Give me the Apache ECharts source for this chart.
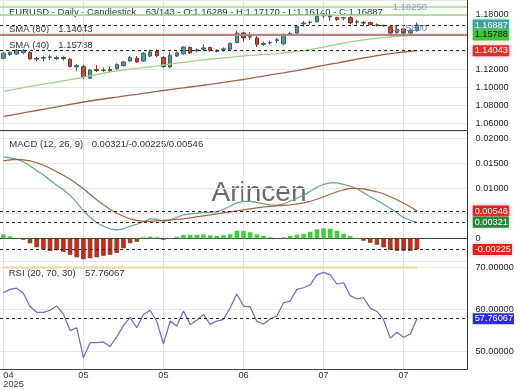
<!DOCTYPE html>
<html><head><meta charset="utf-8">
<script src="https://cdn.jsdelivr.net/npm/echarts@6/dist/echarts.min.js"></script>
<style>html,body{margin:0;padding:0;background:#fff}#c{width:520px;height:390px}</style>
</head><body><div id="c"></div><script>
const categories = ['2025-04-24','2025-04-25','2025-04-28','2025-04-29','2025-04-30','2025-05-01','2025-05-02','2025-05-05','2025-05-06','2025-05-07','2025-05-08','2025-05-09','2025-05-12','2025-05-13','2025-05-14','2025-05-15','2025-05-16','2025-05-19','2025-05-20','2025-05-21','2025-05-22','2025-05-23','2025-05-26','2025-05-27','2025-05-28','2025-05-29','2025-05-30','2025-06-02','2025-06-03','2025-06-04','2025-06-05','2025-06-06','2025-06-09','2025-06-10','2025-06-11','2025-06-12','2025-06-13','2025-06-16','2025-06-17','2025-06-18','2025-06-19','2025-06-20','2025-06-23','2025-06-24','2025-06-25','2025-06-26','2025-06-27','2025-06-30','2025-07-01','2025-07-02','2025-07-03','2025-07-04','2025-07-07','2025-07-08','2025-07-09','2025-07-10','2025-07-11','2025-07-14','2025-07-15','2025-07-16','2025-07-17','2025-07-18','2025-07-21','2025-07-22','2025-07-23','2025-07-24','2025-07-25','2025-07-28','2025-07-29','2025-07-30'];
const tickLabels = ['04\n2025','05','05','06','07','07'];
// [open, close, low, high]
const ohlc = [
[1.1320,1.1376,1.1310,1.1392],[1.1360,1.1385,1.1348,1.1398],[1.1368,1.1410,1.1358,1.1422],[1.1382,1.1405,1.1368,1.1420],
[1.1385,1.1315,1.1303,1.1395],[1.1318,1.1312,1.1290,1.1338],[1.1322,1.1330,1.1286,1.1350],[1.1330,1.1336,1.1300,1.1360],
[1.1316,1.1330,1.1300,1.1350],[1.1330,1.1316,1.1296,1.1342],[1.1310,1.1230,1.1220,1.1320],[1.1226,1.1240,1.1178,1.1256],
[1.1228,1.1115,1.1090,1.1248],[1.1100,1.1190,1.1090,1.1200],[1.1196,1.1186,1.1170,1.1245],[1.1186,1.1190,1.1170,1.1220],
[1.1196,1.1182,1.1165,1.1230],[1.1205,1.1250,1.1195,1.1265],[1.1240,1.1280,1.1230,1.1292],[1.1290,1.1330,1.1280,1.1345],
[1.1320,1.1280,1.1270,1.1345],[1.1290,1.1375,1.1284,1.1386],[1.1345,1.1390,1.1335,1.1415],[1.1400,1.1350,1.1335,1.1420],
[1.1330,1.1230,1.1215,1.1345],[1.1225,1.1355,1.1210,1.1385],[1.1345,1.1380,1.1335,1.1395],[1.1370,1.1445,1.1360,1.1455],
[1.1440,1.1380,1.1370,1.1450],[1.1405,1.1415,1.1385,1.1430],[1.1420,1.1435,1.1400,1.1475],[1.1440,1.1410,1.1392,1.1450],
[1.1405,1.1400,1.1385,1.1420],[1.1415,1.1425,1.1395,1.1440],[1.1420,1.1485,1.1410,1.1495],[1.1495,1.1600,1.1485,1.1630],
[1.1600,1.1545,1.1505,1.1615],[1.1555,1.1565,1.1525,1.1610],[1.1545,1.1475,1.1445,1.1565],[1.1475,1.1485,1.1455,1.1505],
[1.1490,1.1495,1.1470,1.1515],[1.1515,1.1525,1.1490,1.1545],[1.1480,1.1580,1.1465,1.1595],[1.1585,1.1595,1.1570,1.1615],
[1.1600,1.1675,1.1590,1.1690],[1.1700,1.1710,1.1670,1.1735],[1.1715,1.1720,1.1690,1.1735],[1.1725,1.1785,1.1715,1.1800],
[1.1790,1.1800,1.1760,1.1820],[1.1790,1.1780,1.1736,1.1800],[1.1770,1.1750,1.1735,1.1780],[1.1765,1.1770,1.1740,1.1780],
[1.1770,1.1712,1.1695,1.1785],[1.1720,1.1725,1.1690,1.1745],[1.1715,1.1710,1.1680,1.1735],[1.1715,1.1695,1.1685,1.1725],
[1.1690,1.1688,1.1672,1.1705],[1.1685,1.1680,1.1670,1.1690],[1.1668,1.1600,1.1590,1.1680],[1.1605,1.1640,1.1590,1.1690],
[1.1645,1.1600,1.1560,1.1655],[1.1600,1.1628,1.1590,1.1650],[1.16289,1.16887,1.16140,1.17170]
];
const sma40 = [1.0954,1.0968,1.0981,1.0995,1.1009,1.1022,1.1034,1.1046,1.1058,1.1071,1.1084,1.1097,1.1111,1.1126,1.1141,1.1155,1.1169,1.1180,1.1191,1.1201,1.1210,1.1218,1.1226,1.1236,1.1246,1.1256,1.1266,1.1276,1.1285,1.1294,1.1302,1.1310,1.1317,1.1324,1.1331,1.1339,1.1346,1.1352,1.1357,1.1363,1.1368,1.1373,1.1379,1.1387,1.1396,1.1407,1.1418,1.1431,1.1445,1.1459,1.1473,1.1487,1.1501,1.1512,1.1523,1.1533,1.1542,1.1549,1.1556,1.1562,1.1567,1.1573,1.15788];
const sma80 = [1.0677,1.0690,1.0703,1.0717,1.0730,1.0743,1.0756,1.0769,1.0782,1.0796,1.0810,1.0823,1.0837,1.0848,1.0859,1.0870,1.0881,1.0891,1.0902,1.0912,1.0922,1.0933,1.0943,1.0954,1.0964,1.0974,1.0984,1.0993,1.1003,1.1013,1.1022,1.1032,1.1042,1.1053,1.1064,1.1075,1.1086,1.1098,1.1111,1.1123,1.1136,1.1148,1.1160,1.1173,1.1185,1.1199,1.1213,1.1227,1.1241,1.1255,1.1268,1.1282,1.1296,1.1310,1.1324,1.1337,1.1351,1.1362,1.1372,1.1381,1.1390,1.1397,1.14043];
const macdLine = [0.0163,0.0161,0.0158,0.0153,0.0145,0.0135,0.0127,0.0116,0.0106,0.0097,0.0086,0.0072,0.0055,0.0042,0.0031,0.0024,0.0019,0.0017,0.0019,0.0024,0.0028,0.0033,0.0039,0.0038,0.0034,0.0036,0.0042,0.0047,0.0049,0.0050,0.0052,0.0052,0.0053,0.0058,0.0064,0.0071,0.0074,0.0074,0.0072,0.0069,0.0067,0.0066,0.0069,0.0074,0.0080,0.0086,0.0094,0.0102,0.0108,0.0111,0.0111,0.0108,0.0104,0.0099,0.0091,0.0083,0.0076,0.0068,0.0060,0.0051,0.0041,0.0036,0.00321];
const signalLine = [0.0155,0.0157,0.0158,0.0157,0.0155,0.0151,0.0146,0.0140,0.0133,0.0126,0.0118,0.0109,0.0099,0.0088,0.0077,0.0067,0.0058,0.0050,0.0044,0.0039,0.0036,0.0034,0.0034,0.0035,0.0036,0.0037,0.0038,0.0039,0.0041,0.0043,0.0045,0.0047,0.0049,0.0051,0.0053,0.0055,0.0057,0.0059,0.0061,0.0063,0.0064,0.0065,0.0066,0.0067,0.0069,0.0071,0.0074,0.0078,0.0083,0.0088,0.0093,0.0097,0.0100,0.0100,0.0099,0.0096,0.0093,0.0089,0.0083,0.0077,0.0070,0.0063,0.00546];
const histogram = [0.0008,0.0004,0.0001,-0.0003,-0.0010,-0.0018,-0.0022,-0.0025,-0.0024,-0.0027,-0.0033,-0.0038,-0.0042,-0.0040,-0.0038,-0.0035,-0.0033,-0.0029,-0.0020,-0.0010,-0.0007,0.0002,0.0003,0.0002,-0.0003,-0.0001,0.0003,0.0007,0.0007,0.0007,0.0008,0.0006,0.0005,0.0006,0.0008,0.0015,0.0015,0.0012,0.0008,0.0005,0.0002,-0.0001,0.0002,0.0005,0.0007,0.0009,0.0013,0.0018,0.0020,0.0019,0.0015,0.0009,0.0004,0.0001,-0.0005,-0.0009,-0.0013,-0.0018,-0.0023,-0.0025,-0.0025,-0.0025,-0.00225];
const rsi = [64.0,64.8,65.1,63.9,60.7,59.3,59.3,59.8,60.8,58.9,54.9,55.6,48.4,52.0,52.0,52.2,51.1,53.4,56.1,58.1,55.6,58.8,59.8,57.1,51.7,57.2,56.0,59.6,56.4,57.4,58.8,56.4,57.2,57.6,60.4,63.7,60.8,60.6,57.1,56.5,57.7,58.4,61.6,62.0,64.8,65.2,65.9,68.3,68.9,68.3,66.1,66.4,63.3,62.5,62.8,60.3,59.5,57.5,53.1,54.5,53.3,54.1,57.76067];
const last = {close:1.16887, sma40:1.15788, sma80:1.14043, macd:0.00321, hist:-0.00225, signal:0.00546, rsi:57.76067};
const levels = {upperGreen:1.1888, lowerGreen:1.1800, upperLabel:'1.18250', brown:1.1580, brownLabel:'1.15800', rsiOver:70};

const FONT = 'Liberation Sans, Arial, sans-serif';
const chart = echarts.init(document.getElementById('c'), null, {renderer:'canvas'});
const near = (v, step) => Math.abs(v/step - Math.round(v/step)) < 1e-6;
// axis labels hidden where a value box covers them
const covered = (v, boxes, tol) => boxes.some(b => Math.abs(v - b) < tol);
const boxLabel = (text, bg, fg, shadow) => ({show:true, position:'end', distance:5.7, formatter:text, backgroundColor:bg, color:fg, padding:[1,1,0,2], fontSize:9.2, fontFamily:FONT, lineHeight:10, shadowColor:shadow||'transparent', shadowBlur:shadow?5:0});
const dashed = {color:'#222', type:[3,3], width:1};
const hidden = {color:'rgba(0,0,0,0)', width:1, type:'solid'};
const gridW = {left:-1, right:53};
const xBase = (gi, showLabels) => ({
  type:'category', gridIndex:gi, data:categories, boundaryGap:true,
  axisLine:{show:true, lineStyle:{color:'#444', width:1}},
  axisTick:{show:false},
  axisLabel: showLabels ? {show:true, interval:11, fontSize:9.2, fontFamily:FONT, color:'#333', margin:2, lineHeight:9, alignMinLabel:'left',
     formatter:(v, i) => tickLabels[Math.round(i/12)] || ''} : {show:false},
  splitLine:{show:true, interval:11, alignWithLabel:true, lineStyle:{color:'#e3e3e3', width:1}}
});
const yBase = (gi, min, max, split, fmt) => ({
  type:'value', gridIndex:gi, position:'right', min:min, max:max, splitNumber:split,
  axisLine:{show:true, lineStyle:{color:'#333', width:1}}, axisTick:{show:false},
  axisLabel:{margin:8.5, fontSize:9.2, fontFamily:FONT, color:'#222', formatter:fmt},
  splitLine:{show:true, lineStyle:{color:'#e6e6e6', width:1}}
});
const hdr = (text, x, y) => ({type:'text', x:x, y:y, silent:true, style:{text:text, font:'9.5px ' + FONT, fill:'#333', verticalAlign:'middle'}});
const ml = (data) => ({silent:true, symbol:['none','none'], animation:false, precision:6, data:data});

chart.setOption({
  animation:false,
  textStyle:{fontFamily:FONT},
  grid:[
    Object.assign({top:0, height:130}, gridW),
    Object.assign({top:131, height:130}, gridW),
    Object.assign({top:261, height:108}, gridW)
  ],
  xAxis:[xBase(0,false), xBase(1,false), xBase(2,true)],
  yAxis:[
    yBase(0, 1.05272, 1.19652, 7, v => (near(v,0.02) && !covered(v,[last.close,last.sma40,last.sma80],0.006)) ? v.toFixed(5) : ''),
    yBase(1, -0.00454, 0.02146, 5, v => (near(v,0.005) && !covered(v,[last.signal,last.macd,last.hist],0.0012)) ? (Math.abs(v) < 1e-9 ? '0' : v.toFixed(5)) : ''),
    yBase(2, 45.69, 71.62, 3, v => (near(v,10) && !covered(v,[last.rsi],1.2)) ? v.toFixed(5) : '')
  ],
  graphic:[
    {type:'text', x:259, y:193.5, z:0, silent:true, style:{text:'Arincen', font:'28px ' + FONT, fill:'#6a6a6a', align:'center', verticalAlign:'middle'}},
    hdr('EURUSD - Daily - Candlestick', 9, 12.7),
    hdr('63/143 - O:1.16289 - H:1.17170 - L:1.16140 - C:1.16887', 145.7, 12.7),
    hdr('SMA (80)', 9, 29.3), hdr(last.sma80.toFixed(5), 58.3, 29.3),
    hdr('SMA (40)', 9, 45.7), hdr(last.sma40.toFixed(5), 58.3, 45.7),
    hdr('MACD (12, 26, 9)', 9.3, 144), hdr(last.macd.toFixed(5) + '/' + last.hist.toFixed(5) + '/' + last.signal.toFixed(5), 91.7, 144),
    hdr('RSI (20, 70, 30)', 8.7, 273.3), hdr(last.rsi.toFixed(5), 85, 273.3)
  ],
  series:[
    {type:'candlestick', xAxisIndex:0, yAxisIndex:0, data:ohlc, barWidth:4, clip:false,
     itemStyle:{color:'#4f9a9c', color0:'#b4513b', borderColor:'#3e5f66', borderColor0:'#7a3325', borderWidth:1},
     markLine:ml([
       {yAxis:levels.upperGreen, lineStyle:{color:'#a8d08d', width:1.5, type:'solid'}, label:{show:true, position:'insideEnd', distance:[40,0], formatter:levels.upperLabel, color:'#8a9cc4', fontSize:9.5, fontFamily:FONT}},
       {yAxis:levels.lowerGreen, lineStyle:{color:'#a8d08d', width:1.5, type:'solid'}, label:{show:false}},
       {yAxis:levels.brown, lineStyle:{color:'#bd8080', width:2, type:'solid'}, label:{show:true, position:'insideEndTop', distance:[40,1], formatter:levels.brownLabel, color:'#6f82c4', fontSize:9.5, fontFamily:FONT}},
       {yAxis:last.close, lineStyle:dashed, label:boxLabel(last.close.toFixed(5), '#3f9fa1', '#fff', 'rgba(90,220,220,0.6)')},
       {yAxis:last.sma40, lineStyle:hidden, label:boxLabel(last.sma40.toFixed(5), '#3ec43e', '#111', 'rgba(180,230,60,0.6)')},
       {yAxis:last.sma80, lineStyle:dashed, label:boxLabel(last.sma80.toFixed(5), '#e0302a', '#fff', 'rgba(255,130,190,0.7)')}
     ])},
    {type:'line', xAxisIndex:0, yAxisIndex:0, data:sma40, symbol:'none', lineStyle:{color:'#a9cf8c', width:1.3}},
    {type:'line', xAxisIndex:0, yAxisIndex:0, data:sma80, symbol:'none', lineStyle:{color:'#a0604c', width:1.3}},
    {type:'line', xAxisIndex:1, yAxisIndex:1, data:macdLine, symbol:'none', lineStyle:{color:'#62a294', width:1.2},
     markLine:ml([
       {yAxis:last.signal, lineStyle:dashed, label:boxLabel(last.signal.toFixed(5), '#e3221b', '#fff', 'rgba(255,130,190,0.7)')},
       {yAxis:last.macd, lineStyle:dashed, label:boxLabel(last.macd.toFixed(5), '#2e8540', '#fff', 'rgba(120,220,120,0.5)')}
     ])},
    {type:'line', xAxisIndex:1, yAxisIndex:1, data:signalLine, symbol:'none', lineStyle:{color:'#a5623f', width:1.2}},
    {type:'bar', xAxisIndex:1, yAxisIndex:1, barWidth:4.5,
     data:histogram.map(v => ({value:v, itemStyle: v >= 0 ? {color:'#3fcf3f'} : (v > -0.0015 ? {color:'#8e4a25'} : {color:'#d4261a', borderColor:'#7a3518', borderWidth:0.8})})),
     markLine:ml([
       {yAxis:last.hist, lineStyle:dashed, label:boxLabel(last.hist.toFixed(5), '#e3221b', '#fff', 'rgba(255,130,190,0.7)')}
     ])},
    {type:'line', xAxisIndex:2, yAxisIndex:2, data:rsi, symbol:'none', lineStyle:{color:'#6a6ac0', width:1.2},
     markLine:ml([
       {yAxis:last.rsi, lineStyle:dashed, label:boxLabel(last.rsi.toFixed(5), '#2b2bd9', '#fff')},
       [{coord:[categories[0], levels.rsiOver], lineStyle:{color:'#e6dfae', width:2.5, type:'solid'}, label:{show:false}}, {coord:[categories[62], levels.rsiOver]}]
     ])}
  ]
});
</script></body></html>
